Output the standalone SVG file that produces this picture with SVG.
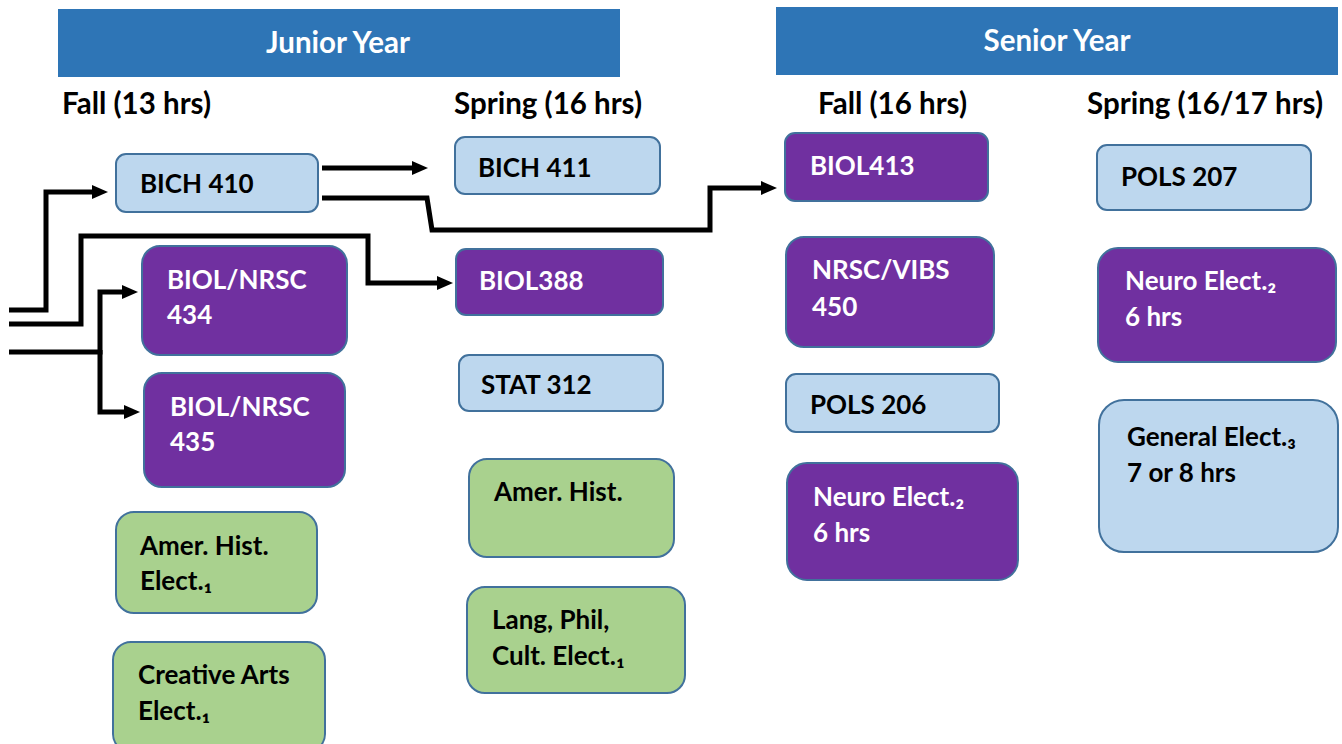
<svg xmlns="http://www.w3.org/2000/svg" width="1342" height="744" viewBox="0 0 1342 744">
<style>
text{font-family:Lato,"Liberation Sans",sans-serif;font-weight:bold;font-size:26px;fill:#000}
.hdr{fill:#2E75B6}
.ht{fill:#fff;font-size:29.5px}
.sub{font-size:29.5px}
.lb{fill:#BDD7EE;stroke:#41719C;stroke-width:2}
.pu{fill:#7030A0;stroke:#41719C;stroke-width:2}
.gr{fill:#A9D18E;stroke:#41719C;stroke-width:2}
.w{fill:#fff}
.c{fill:none;stroke:#000;stroke-width:5}
</style>
<defs>
<marker id="ah" viewBox="0 0 16 14" markerWidth="16" markerHeight="14" refX="3" refY="7" orient="auto" markerUnits="userSpaceOnUse">
<path d="M0,0 L16,7 L0,14 z" fill="#000"/>
</marker>
</defs>
<rect width="1342" height="744" fill="#fff"/>
<g id="junior-header"><rect class="hdr" x="58" y="9" width="562" height="68"/><text class="ht" x="338" y="53" text-anchor="middle">Junior Year</text></g>
<g id="senior-header"><rect class="hdr" x="776" y="7" width="562" height="68"/><text class="ht" x="1057" y="51" text-anchor="middle">Senior Year</text></g>
<g id="sem-labels">
<text class="sub" x="62" y="114">Fall (13 hrs)</text>
<text class="sub" x="454" y="114">Spring (16 hrs)</text>
<text class="sub" x="818" y="114">Fall (16 hrs)</text>
<text class="sub" x="1087" y="114">Spring (16/17 hrs)</text>
</g>
<g id="bich410"><rect class="lb" x="116" y="154" width="202" height="58" rx="10"/><text x="140" y="193">BICH 410</text></g>
<g id="biol434"><rect class="pu" x="142" y="246" width="205" height="109" rx="18"/><text class="w" x="167" y="289">BIOL/NRSC</text><text class="w" x="167" y="324">434</text></g>
<g id="biol435"><rect class="pu" x="144" y="373" width="201" height="114" rx="18"/><text class="w" x="170" y="416">BIOL/NRSC</text><text class="w" x="170" y="451">435</text></g>
<g id="amerhist-fall"><rect class="gr" x="116" y="512" width="201" height="101" rx="18"/><text x="140" y="555">Amer. Hist.</text><text x="140" y="590">Elect.₁</text></g>
<g id="creative"><rect class="gr" x="113" y="642" width="212" height="110" rx="18"/><text x="138" y="684">Creative Arts</text><text x="138" y="720">Elect.₁</text></g>
<g id="bich411"><rect class="lb" x="455" y="137" width="205" height="57" rx="10"/><text x="478" y="177">BICH 411</text></g>
<g id="biol388"><rect class="pu" x="456" y="249" width="207" height="66" rx="10"/><text class="w" x="479" y="290">BIOL388</text></g>
<g id="stat312"><rect class="lb" x="459" y="355" width="204" height="56" rx="10"/><text x="481" y="394">STAT 312</text></g>
<g id="amerhist-spring"><rect class="gr" x="469" y="459" width="205" height="98" rx="18"/><text x="494" y="501">Amer. Hist.</text></g>
<g id="lang"><rect class="gr" x="467" y="587" width="218" height="106" rx="18"/><text x="492" y="629">Lang, Phil,</text><text x="492" y="665">Cult. Elect.₁</text></g>
<g id="biol413"><rect class="pu" x="785" y="133" width="203" height="68" rx="10"/><text class="w" x="810" y="175">BIOL413</text></g>
<g id="nrsc450"><rect class="pu" x="786" y="237" width="208" height="110" rx="18"/><text class="w" x="812" y="279">NRSC/VIBS</text><text class="w" x="812" y="316">450</text></g>
<g id="pols206"><rect class="lb" x="786" y="374" width="213" height="58" rx="10"/><text x="810" y="414">POLS 206</text></g>
<g id="neuro-fall"><rect class="pu" x="787" y="463" width="231" height="117" rx="20"/><text class="w" x="813" y="506">Neuro Elect.₂</text><text class="w" x="813" y="542">6 hrs</text></g>
<g id="pols207"><rect class="lb" x="1097" y="145" width="214" height="65" rx="10"/><text x="1121" y="186">POLS 207</text></g>
<g id="neuro-spring"><rect class="pu" x="1098" y="248" width="238" height="114" rx="20"/><text class="w" x="1125" y="290">Neuro Elect.₂</text><text class="w" x="1125" y="326">6 hrs</text></g>
<g id="general"><rect class="lb" x="1099" y="400" width="239" height="152" rx="25"/><text x="1127" y="446">General Elect.₃</text><text x="1127" y="482">7 or 8 hrs</text></g>
<g id="connectors">
<path class="c" d="M9,310 H46 V192 H95" marker-end="url(#ah)"/>
<path class="c" d="M9,324 H81 V236 H368 V283 H440" marker-end="url(#ah)"/>
<path class="c" d="M9,352 H100 V292 H125" marker-end="url(#ah)"/>
<path class="c" d="M100,350 V412 H127" marker-end="url(#ah)"/>
<path class="c" d="M322,168 H415" marker-end="url(#ah)"/>
<path class="c" d="M322,198 H427 L432,230 H710 V188 H764" marker-end="url(#ah)"/>
</g>
</svg>
